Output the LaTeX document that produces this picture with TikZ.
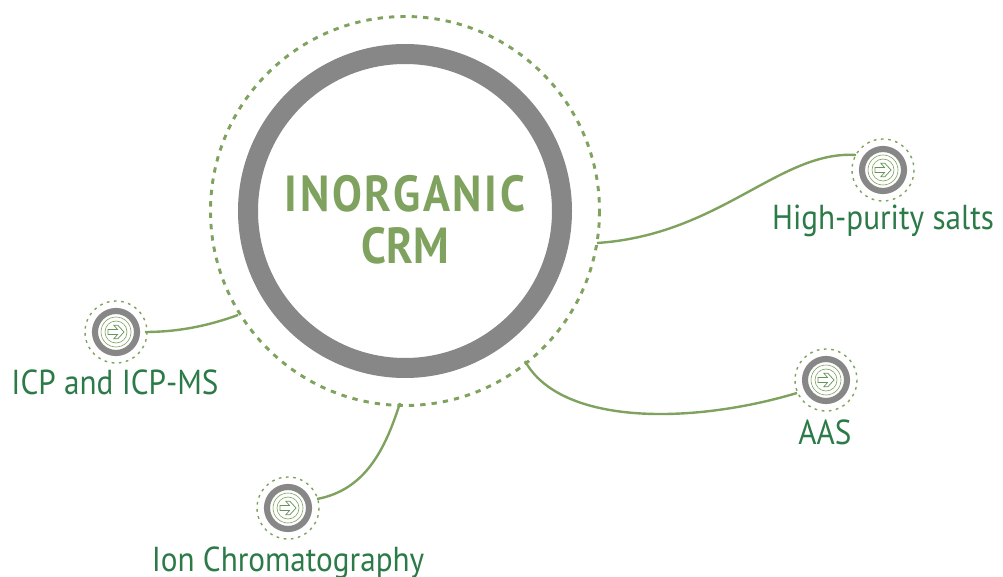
\documentclass[tikz,border=0pt]{standalone}
\usepackage{fontspec}
\setmainfont{PT Sans}
\newfontfamily\labelfont[FakeStretch=0.9]{PT Sans}
\newfontfamily\titlefont[FakeStretch=0.88,BoldFont={PT Sans Bold}]{PT Sans}
\newfontfamily\titlewide[FakeStretch=0.88,LetterSpace=5.5,BoldFont={PT Sans Bold}]{PT Sans}
\definecolor{lgreen}{HTML}{7FA25E}
\definecolor{dgreen}{HTML}{2C7A48}
\definecolor{ringgray}{HTML}{878787}
\tikzset{
  x=0.75pt,y=-0.75pt,
  link/.style={draw=lgreen,line width=1.8pt},
  label/.style={text=dgreen,font=\labelfont\fontsize{26}{26}\selectfont,inner sep=0pt,anchor=base},
  title/.style={text=lgreen,inner sep=0pt,anchor=base},
  hub/.style={circle,inner sep=0pt,outer sep=0pt,minimum size=31.5pt,draw=ringgray,line width=4.6pt,fill=white},
  halo/.style={draw=lgreen,line width=1.05pt,dash pattern=on 2pt off 3.4pt},
  fine/.style={draw=lgreen,line width=0.45pt},
  arrowmark/.style={draw=lgreen!70!dgreen,line width=0.55pt},
}
\newcommand{\iconmark}[1]{%
  \draw[halo] (#1) circle[radius=31];
  \draw[fine] (#1) circle[radius=15];
  \draw[fine] (#1) circle[radius=11];
  \begin{scope}[shift={(#1)}]
    \draw[arrowmark] (-8,-2.5) -- (1.5,-2.5) -- (-2.2,-6.8) -- (1.8,-6.8) -- (8,0) -- (1.8,6.8) -- (-2.2,6.8) -- (1.5,2.5) -- (-8,2.5) -- cycle;
  \end{scope}
}
\begin{document}
\begin{tikzpicture}
\useasboundingbox (0,0) rectangle (1003,577);
\coordinate (cc) at (405,211);
\coordinate (ia) at (883,170);
\coordinate (ib) at (116,332);
\coordinate (ic) at (826,380);
\coordinate (id) at (288,508);
\coordinate (ea) at (597,243);
\coordinate (eb) at (238,315);
\coordinate (ec) at (525,361);
\coordinate (ed) at (400,403);
\draw[link] (ea) .. controls (720,235) and (780,150) .. (856,155);
\draw[link] (eb) .. controls (205,327) and (175,332) .. (145,332);
\draw[link] (ec) .. controls (560,425) and (690,425) .. (797,393);
\draw[link] (ed) .. controls (385,450) and (365,490) .. (317,499);
\draw[lgreen,line width=2.2pt,dash pattern=on 4pt off 4.55pt] (cc) circle[radius=194.5];
\node[circle,inner sep=0pt,outer sep=0pt,minimum size=235.5pt,draw=ringgray,line width=15pt,fill=white] (core) at (cc) {};
\node[title,font=\titlewide\fontsize{38}{38}\bfseries\selectfont] (t1) at (405,212) {INORGANIC};
\node[title,font=\titlefont\fontsize{38}{38}\bfseries\selectfont] (t2) at (405,264) {CRM};
\foreach \c/\n in {ia/ha,ib/hb,ic/hc,id/hd}{
  \node[hub] (\n) at (\c) {};
  \iconmark{\c}
}
\node[label] (la) at (883,230) {High-purity salts};
\node[label] (lb) at (115,394) {ICP and ICP-MS};
\node[label] (lc) at (825,444) {AAS};
\node[label] (ld) at (288,571) {Ion Chromatography};
\end{tikzpicture}
\end{document}
